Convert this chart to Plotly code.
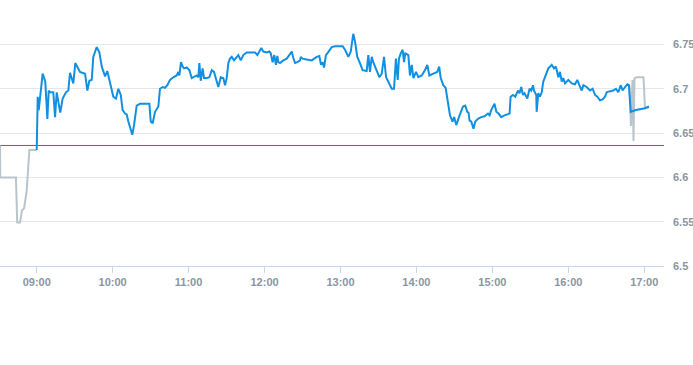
import pandas as pd
import plotly.graph_objects as go

# minutes relative to 09:00, prices
pre_minutes = [-29.0, -28.8, -16.4, -15.4, -13.2, -11.6, -10.0, -7.9, -5.8, 0.0]
pre_prices = [6.636, 6.600, 6.600, 6.549, 6.549, 6.563, 6.565, 6.585, 6.631, 6.631]

main_minutes = [
    0.0, 0.8, 1.6, 2.6, 4.7, 6.8, 8.4, 9.5, 10.5, 13.1, 14.5, 15.8, 17.1, 18.6, 20.5, 23.1,
    25.0, 26.3, 28.9, 30.5, 34.2, 38.2, 40.0, 41.6, 43.5, 44.7, 47.4, 49.5, 51.4, 54.0,
    55.8, 57.9, 60.5, 62.6, 64.5, 66.4, 67.9, 69.8, 71.1, 72.4, 74.3, 75.5, 76.9, 79.0,
    81.6, 89.0, 90.1, 91.6, 93.5, 96.1, 97.4, 99.5, 101.4, 103.2, 105.3, 107.9, 110.6,
    111.9, 112.7, 114.0, 115.3, 116.4, 118.5, 120.6, 122.5, 124.3, 126.4, 127.7, 128.5,
    129.6, 131.1, 132.2, 134.3, 136.4, 138.3, 140.1, 141.6, 143.5, 145.4, 147.4, 148.8,
    150.1, 151.4, 152.7, 154.1, 155.9, 159.3, 161.2, 163.2, 165.9, 172.5, 174.3, 175.9,
    177.4, 179.0, 181.7, 183.8, 184.9, 186.4, 187.7, 189.0, 190.1, 190.9, 192.2, 194.8,
    197.5, 200.1, 201.5, 202.7, 204.1, 205.9, 208.0, 208.6, 210.1, 213.3, 217.3, 221.2,
    223.3, 224.6, 225.9, 227.0, 228.5, 229.6, 231.7, 233.1, 235.7, 239.6, 241.7, 243.6,
    246.2, 248.1, 250.1, 251.5, 253.3, 255.4, 257.5, 260.7, 262.0, 263.3, 264.7, 265.9,
    267.3, 268.6, 270.7, 272.6, 274.4, 276.0, 277.8, 280.5, 282.3, 283.8, 285.2, 286.2,
    287.6, 289.1, 290.2, 291.2, 293.6, 294.9, 296.3, 297.6, 299.7, 301.5, 304.2, 306.8,
    308.6, 310.2, 313.3, 316.5, 318.0, 319.2, 321.2, 323.1, 324.4, 325.7, 326.5, 328.5,
    329.8, 331.5, 332.8, 334.1, 336.8, 338.6, 340.2, 341.2, 342.0, 343.3, 345.1, 346.5,
    348.6, 351.2, 353.8, 356.5, 357.8, 359.1, 361.7, 363.1, 364.9, 367.0, 369.6, 373.6,
    374.4, 376.3, 378.1, 380.2, 381.5, 382.8, 384.2, 385.4, 387.6, 389.4, 390.7, 392.1,
    392.8, 394.7, 395.0, 396.3, 397.6, 399.0, 400.2, 402.3, 404.2, 406.9, 408.7, 410.2,
    412.1, 413.4, 414.8, 416.0, 417.4, 420.0, 422.7, 425.3, 427.1, 428.7, 430.6, 431.9,
    434.5, 437.2, 439.2, 441.1, 442.9, 445.0, 447.1, 449.0, 450.3, 452.4, 455.5, 457.6,
    459.5, 461.4, 462.9, 464.8, 466.6, 467.9, 469.3, 473.4, 480.5, 483.7,
]
main_prices = [
    6.631, 6.691, 6.676, 6.691, 6.717, 6.708, 6.666, 6.698, 6.696, 6.696, 6.668, 6.696,
    6.687, 6.673, 6.689, 6.696, 6.698, 6.718, 6.706, 6.729, 6.719, 6.717, 6.698, 6.709,
    6.710, 6.736, 6.747, 6.741, 6.725, 6.714, 6.720, 6.707, 6.691, 6.689, 6.700, 6.693,
    6.676, 6.672, 6.671, 6.663, 6.655, 6.648, 6.659, 6.681, 6.683, 6.683, 6.663, 6.661,
    6.674, 6.680, 6.700, 6.702, 6.701, 6.704, 6.710, 6.713, 6.715, 6.719, 6.715, 6.730,
    6.725, 6.723, 6.724, 6.721, 6.712, 6.713, 6.715, 6.713, 6.729, 6.709, 6.723, 6.712,
    6.712, 6.713, 6.721, 6.719, 6.712, 6.702, 6.713, 6.712, 6.704, 6.712, 6.729, 6.734,
    6.736, 6.732, 6.738, 6.732, 6.738, 6.741, 6.741, 6.738, 6.742, 6.746, 6.742, 6.741,
    6.742, 6.740, 6.730, 6.738, 6.727, 6.737, 6.730, 6.729, 6.732, 6.734, 6.739, 6.742,
    6.735, 6.729, 6.730, 6.732, 6.736, 6.734, 6.733, 6.732, 6.736, 6.737, 6.727, 6.730,
    6.724, 6.738, 6.740, 6.744, 6.747, 6.748, 6.748, 6.748, 6.744, 6.736, 6.742, 6.762,
    6.753, 6.736, 6.729, 6.721, 6.720, 6.738, 6.719, 6.736, 6.730, 6.725, 6.719, 6.713,
    6.717, 6.736, 6.713, 6.708, 6.700, 6.700, 6.734, 6.710, 6.734, 6.740, 6.744, 6.730,
    6.740, 6.738, 6.715, 6.727, 6.712, 6.719, 6.713, 6.715, 6.721, 6.727, 6.715, 6.717,
    6.719, 6.725, 6.712, 6.704, 6.701, 6.689, 6.674, 6.670, 6.663, 6.668, 6.659, 6.665,
    6.670, 6.680, 6.681, 6.674, 6.673, 6.664, 6.663, 6.655, 6.663, 6.666, 6.668, 6.669,
    6.672, 6.670, 6.676, 6.683, 6.674, 6.672, 6.668, 6.670, 6.672, 6.691, 6.693, 6.691,
    6.698, 6.695, 6.702, 6.693, 6.695, 6.689, 6.700, 6.698, 6.704, 6.698, 6.693, 6.674,
    6.695, 6.691, 6.696, 6.708, 6.716, 6.723, 6.727, 6.723, 6.725, 6.713, 6.719, 6.708,
    6.712, 6.706, 6.710, 6.706, 6.705, 6.710, 6.704, 6.698, 6.704, 6.702, 6.698, 6.700,
    6.693, 6.691, 6.687, 6.688, 6.691, 6.696, 6.697, 6.698, 6.700, 6.696, 6.704, 6.698,
    6.702, 6.705, 6.704, 6.674, 6.676, 6.678, 6.680,
]

post_minutes = [468.3, 469.5, 470.7, 471.5, 472.3, 474.2, 479.4, 480.6, 483.7]
post_prices = [6.704, 6.658, 6.710, 6.641, 6.712, 6.713, 6.713, 6.678, 6.679]

prev_close = 6.636
y_ticks = [6.5, 6.55, 6.6, 6.65, 6.7, 6.75]
y_tick_labels = ["6.5", "6.55", "6.6", "6.65", "6.7", "6.75"]

base = pd.Timestamp("2024-01-02 09:00:00")


def to_time(mins):
    return [base + pd.Timedelta(minutes=m) for m in mins]


x_start = base + pd.Timedelta(minutes=-29.0)
x_end = base + pd.Timedelta(minutes=495.6)

fig = go.Figure()
fig.add_trace(go.Scatter(x=[x_start, x_end], y=[prev_close, prev_close], mode="lines",
                         line=dict(color="#d63b35", width=1), hoverinfo="skip"))
fig.add_trace(go.Scatter(x=to_time(pre_minutes), y=pre_prices, mode="lines",
                         line=dict(color="#b9c5cd", width=2), hoverinfo="skip"))
fig.add_trace(go.Scatter(x=to_time(post_minutes), y=post_prices, mode="lines",
                         line=dict(color="#b9c5cd", width=2), hoverinfo="skip"))
fig.add_trace(go.Scatter(x=to_time(main_minutes), y=main_prices, mode="lines",
                         line=dict(color="#1190e2", width=2)))

fig.update_layout(
    width=693, height=365,
    margin=dict(l=0, r=29, t=9, b=99, autoexpand=False),
    paper_bgcolor="white", plot_bgcolor="white",
    showlegend=False,
    font=dict(family="Liberation Sans, Arial, sans-serif", size=11, color="#8a96a4"),
    xaxis=dict(
        range=[x_start, x_end],
        tickformat="%H:%M",
        dtick=3600000,
        tick0=base,
        showgrid=False,
        showline=True, linecolor="#ccd6eb", linewidth=1,
        ticks="outside", ticklen=6, tickcolor="#ccd6eb",
        tickfont=dict(size=11, color="#8a96a4", weight="bold"),
        zeroline=False,
    ),
    yaxis=dict(
        side="right",
        range=[6.5, 6.79],
        tickvals=y_ticks, ticktext=y_tick_labels,
        showgrid=True, gridcolor="#e6e6e6", gridwidth=1,
        zeroline=False,
        ticks="", ticklabelstandoff=8,
        tickfont=dict(size=11, color="#8a96a4", weight="bold"),
    ),
)

fig.write_html("out.html", config={"displayModeBar": False},
               post_script="document.body.style.margin='0';document.body.style.overflow='hidden';")
